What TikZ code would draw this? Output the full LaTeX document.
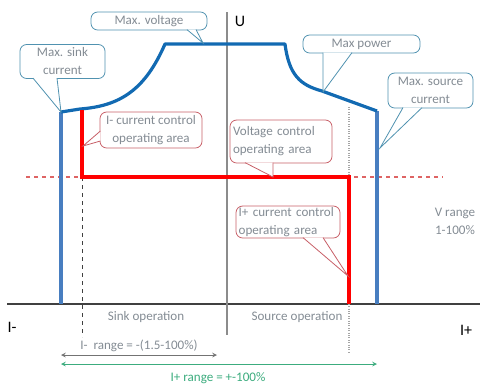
\documentclass[tikz,border=0pt]{standalone}
\usepackage{fontspec}
\setmainfont{Carlito}
\usetikzlibrary{calc}

\definecolor{curveblue}{RGB}{18,106,178}
\definecolor{sideblue}{RGB}{72,126,192}
\definecolor{calloutblue}{RGB}{80,146,176}
\definecolor{calloutred}{RGB}{200,96,104}
\definecolor{labelgray}{RGB}{132,140,148}
\definecolor{rangegreen}{RGB}{60,172,126}
\definecolor{dashred}{RGB}{222,100,100}

\tikzset{
  callb/.style={draw=calloutblue, line width=0.6pt, rounded corners=5pt, fill=white,
    text=labelgray, font=\fontsize{9.8}{13.5}\selectfont, align=center, inner sep=0pt},
  callr/.style={callb, draw=calloutred},
  ptrb/.style={draw=calloutblue, line width=0.6pt, fill=white},
  ptrr/.style={ptrb, draw=calloutred},
  lbl/.style={text=labelgray, font=\fontsize{9.8}{13.5}\selectfont, align=center},
}

\begin{document}
\begin{tikzpicture}[x=0.75pt, y=-0.75pt]
    \useasboundingbox (0,0) rectangle (492,387);
    % 軸
    \draw[line width=0.8pt, black!75] (7,304) -- (480,304);
    \draw[line width=0.8pt, black!45] (227,12) -- (227,335);
    \node (U) at (240,21) {\fontsize{12}{14}\selectfont U};
    \node (Im) at (12,327) {\fontsize{12}{14}\selectfont I-};
    \node (Ip) at (466,330) {\fontsize{12}{14}\selectfont I+};
    % 補助線
    \draw[dashred, dashed, line width=0.8pt] (26,177) -- (443,177);
    \draw[black!75, dashed, line width=0.6pt] (82,177) -- (82,337);
    \draw[black!35, densely dotted, line width=0.8pt] (349,107) -- (349,353);
    % 動作範囲
    \draw[sideblue, line width=2.4pt] (61,304) -- (61,112);
    \draw[sideblue, line width=2.4pt] (377,111) -- (377,304);
    \draw[curveblue, line width=2.4pt, line join=round] (61,112) -- (80,109)
        .. controls (120,106) and (145,90) .. (165,44) -- (285,44)
        .. controls (289,75) and (300,85) .. (322,91) -- (377,111);
    \draw[red, line width=2.4pt] (82,110) -- (82,177) -- (349,177) -- (349,304);
    \coordinate (tipmv) at (203,43);
    \coordinate (tipms) at (61,112);
    \coordinate (tipim) at (83,146);
    \coordinate (tipvc) at (273,177);
    \coordinate (tipmp) at (323,92);
    \coordinate (tipmsc) at (380,148);
    \coordinate (tipip) at (348,276);
    % 吹き出し
    \node[callb, minimum width=87pt, minimum height=13.5pt] (mv) at (149,21) {Max. voltage};
    \draw[ptrb] ($(mv.south)+(38,-0.8)$) -- (tipmv) -- ($(mv.south)+(47,-0.8)$);
    \node[callb, minimum width=63.75pt, minimum height=25.5pt] (ms) at (62.5,61.5) {Max. sink\\current};
    \draw[ptrb] ($(ms.south)+(-29.5,-0.8)$) -- (tipms) -- ($(ms.south)+(-5.5,-0.8)$);
    \node[callr, minimum width=76.5pt, minimum height=27pt] (im) at (151,130) {I- current control\\operating area};
    \draw[ptrr] ($(im.west)+(0.8,1)$) -- (tipim) -- ($(im.west)+(0.8,11)$);
    \node[callr, text width=72pt, inner xsep=2.25pt, minimum height=32.25pt, align=left] (vc) at (281,141.5) {Voltage control\\operating area};
    \draw[ptrr] ($(vc.south)+(-36,-0.8)$) -- (tipvc) -- ($(vc.south)+(-8,-0.8)$);
    \node[callb, minimum width=87.75pt, minimum height=13.5pt] (mp) at (361.5,44) {Max power};
    \draw[ptrb] ($(mp.south)+(-38.5,-0.8)$) -- (tipmp) -- ($(mp.south)+(-9.5,-0.8)$);
    \node[callb, minimum width=63.75pt, minimum height=26.25pt] (msc) at (430.5,90.5) {Max. source\\current};
    \draw[ptrb] ($(msc.south)+(-27.5,-0.8)$) -- (tipmsc) -- ($(msc.south)+(-8.5,-0.8)$);
    \node[callr, text width=74pt, inner xsep=2pt, minimum height=24pt, align=left] (ip) at (288,222) {I+ current control\\operating area};
    \draw[ptrr] ($(ip.south)+(15,-0.8)$) -- (tipip) -- ($(ip.south)+(35,-0.8)$);
    % ラベル
    \node[lbl] (sink) at (146,317) {Sink operation};
    \node[lbl] (source) at (297,317) {Source operation};
    \node[lbl] (vrange) at (455,221) {V range\\1-100\%};
    % 範囲の矢印
    \coordinate (ma) at (61,355);
    \coordinate (mb) at (217,355);
    \coordinate (pa) at (61,364);
    \coordinate (pb) at (377,364);
    \draw[black!55, line width=0.6pt, {stealth}-{stealth}] (ma) -- node[lbl, above=-1pt] {I-\ \ range = -(1.5-100\%)} (mb);
    \draw[rangegreen, line width=0.6pt, {stealth}-{stealth}] (pa) -- (pb);
    \node[lbl, text=rangegreen] (prange) at (218,378) {I+ range = +-100\%};
\end{tikzpicture}
\end{document}
